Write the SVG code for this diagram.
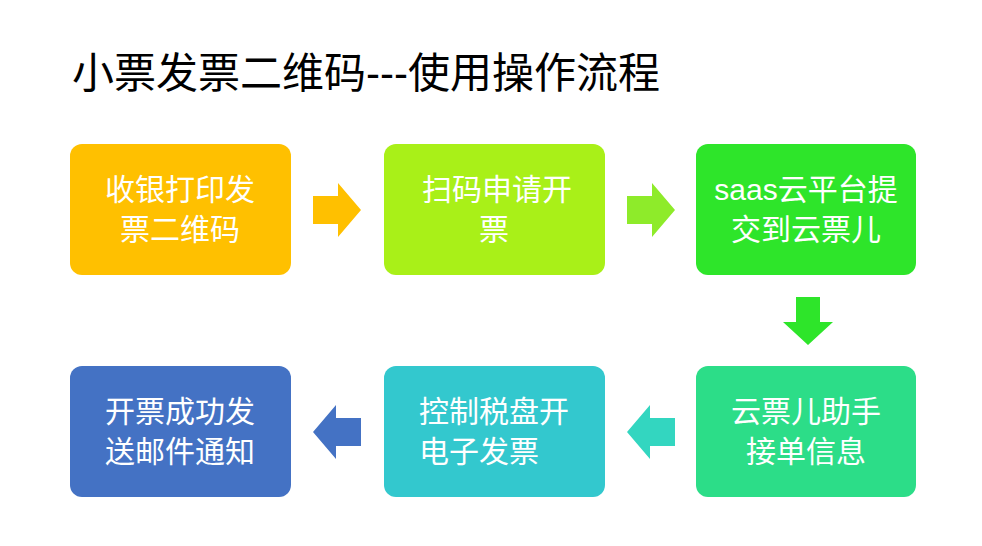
<svg xmlns="http://www.w3.org/2000/svg" width="982" height="546" viewBox="0 0 982 546">
<style>
.t{font-family:"Liberation Sans","Noto Sans CJK SC",sans-serif;font-size:30px;fill:#fff;text-anchor:middle}
.h{font-family:"Liberation Sans","Noto Sans CJK SC",sans-serif;font-size:42px;fill:#000}
</style>
<rect width="982" height="546" fill="#fff"/>
<text class="h" x="72" y="88">小票发票二维码---使用操作流程</text>
<g id="n1"><rect x="70" y="144" width="221" height="131" rx="12" fill="#FFC000"/><text class="t" x="180" y="200">收银打印发</text><text class="t" x="180" y="240">票二维码</text></g>
<g id="n2"><rect x="384" y="144" width="221" height="131" rx="12" fill="#A9F018"/><text class="t" x="497" y="200">扫码申请开</text><text class="t" x="494" y="240">票</text></g>
<g id="n3"><rect x="696" y="144" width="220" height="131" rx="12" fill="#2EE52A"/><text class="t" x="806" y="200">saas云平台提</text><text class="t" x="806" y="240">交到云票儿</text></g>
<g id="n6"><rect x="696" y="366" width="220" height="131" rx="12" fill="#2CDD88"/><text class="t" x="806" y="422">云票儿助手</text><text class="t" x="806" y="462">接单信息</text></g>
<g id="n5"><rect x="384" y="366" width="221" height="131" rx="12" fill="#33C8CE"/><text class="t" x="494" y="422">控制税盘开</text><text class="t" x="479" y="462">电子发票</text></g>
<g id="n4"><rect x="70" y="366" width="221" height="131" rx="12" fill="#4472C4"/><text class="t" x="180" y="422">开票成功发</text><text class="t" x="180" y="462">送邮件通知</text></g>
<g id="connectors">
<polygon points="313,196 338,196 338,183 361,210 338,237 338,224 313,224" fill="#FFC000"/>
<polygon points="627,196 652,196 652,183 675,210 652,237 652,224 627,224" fill="#8EEB2A"/>
<polygon points="796,297 820,297 820,322 833,322 808,345 783,322 796,322" fill="#2EE52A"/>
<polygon points="675,418 650,418 650,405 627,432 650,459 650,446 675,446" fill="#33D6C0"/>
<polygon points="361,418 336,418 336,405 313,432 336,459 336,446 361,446" fill="#4472C4"/>
</g>
</svg>
